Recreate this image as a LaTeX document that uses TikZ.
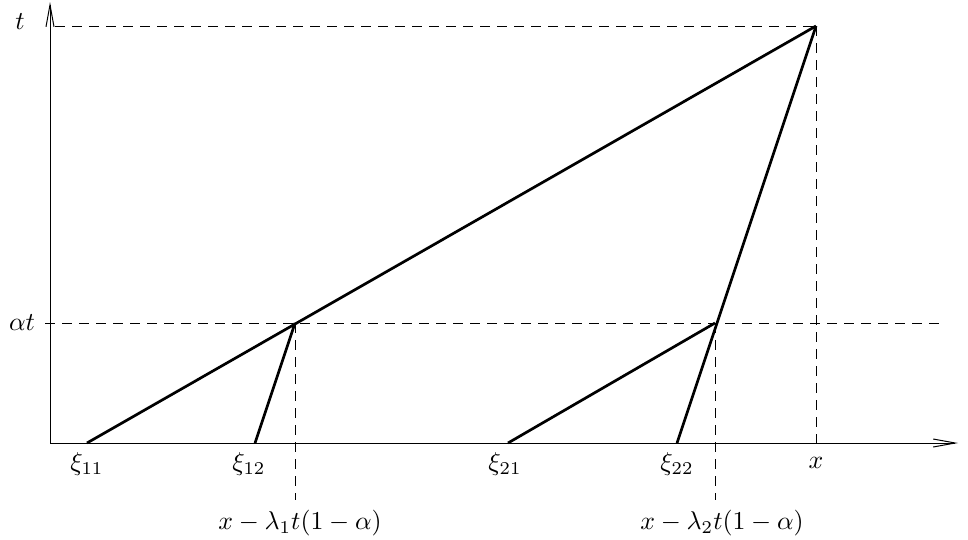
\documentclass[tikz,border=0pt]{standalone}
\usetikzlibrary{arrows.meta}
\begin{document}
\begin{tikzpicture}[x=1pt,y=-1pt,
  axis/.style={line width=1pt,-{Straight Barb[length=22pt,width=8pt,line width=1pt]}},
  ray/.style={line width=2.7pt},
  guide/.style={line width=0.9pt,dash pattern=on 10pt off 7pt},
  lbl/.style={inner sep=0pt,scale=2.58,transform shape}]
\useasboundingbox (0,0) rectangle (968,539);
% points
\coordinate (O) at (50,443);
\coordinate (Ytop) at (50,2);
\coordinate (Xend) at (958,443);
\coordinate (T) at (816,26);
\coordinate (A) at (295,323);
\coordinate (B) at (715,323);
\coordinate (X11) at (87,443);
\coordinate (X12) at (255,443);
\coordinate (X21) at (508,443);
\coordinate (X22) at (677,443);
\coordinate (Xx) at (816,443);
\coordinate (Tl) at (55,26);
\coordinate (ATl) at (45,323);
\coordinate (ATr) at (940,323);
\coordinate (Ad) at (295,500);
\coordinate (Bd) at (715,500);
% guides
\draw[guide] (Tl) -- (T);
\draw[guide] (ATl) -- (ATr);
\draw[guide] (T) -- (Xx);
\draw[guide] (A) -- (Ad);
\draw[guide] (B) -- (Bd);
% axes
\draw[axis] (O) -- (Xend);
\draw[axis] (O) -- (Ytop);
% rays
\draw[ray] (X11) -- (T);
\draw[ray] (X22) -- (T);
\draw[ray] (X12) -- (A);
\draw[ray] (X21) -- (B);
% labels
\node[lbl] (lt) at (20,22) {$t$};
\node[lbl] (lat) at (22,323) {$\alpha t$};
\node[lbl,anchor=north] (l11) at (87,452) {$\xi_{11}$};
\node[lbl,anchor=north] (l12) at (249,452) {$\xi_{12}$};
\node[lbl,anchor=north] (l21) at (505,452) {$\xi_{21}$};
\node[lbl,anchor=north] (l22) at (677,452) {$\xi_{22}$};
\node[lbl] (lx) at (816,463) {$x$};
\node[lbl] (lb1) at (300,523) {$x-\lambda_1t(1-\alpha)$};
\node[lbl] (lb2) at (722,523) {$x-\lambda_2t(1-\alpha)$};
\end{tikzpicture}
\end{document}
